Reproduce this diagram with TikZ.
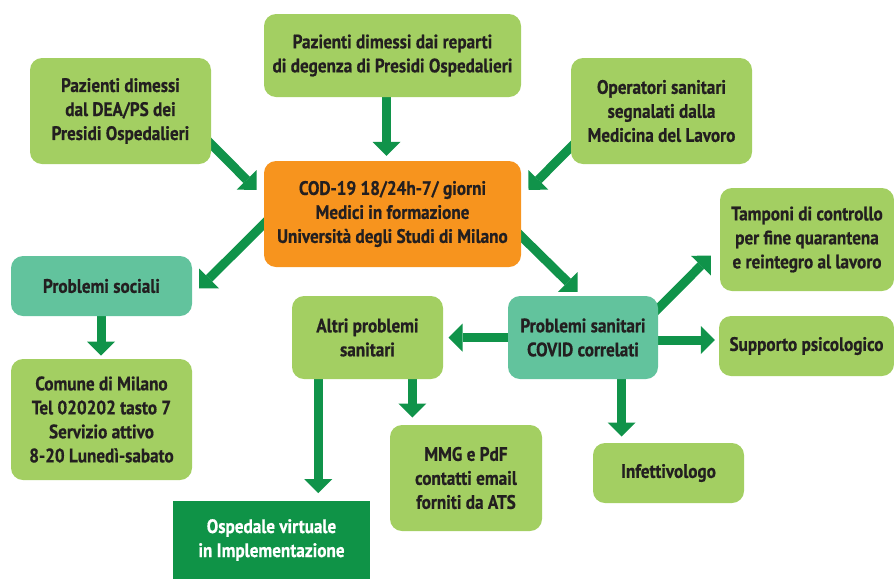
\documentclass[tikz,border=0pt]{standalone}
\usepackage{fontspec}
\setmainfont{PT Sans}[FakeStretch=0.88,BoldFeatures={FakeBold=0.6}]
\usetikzlibrary{arrows.meta,calc,backgrounds}
\definecolor{colorbox}  {RGB}{163,207,98 }
\definecolor{colorteal} {RGB}{98 ,195,157}
\definecolor{colorcod}  {RGB}{247,148,30 }
\definecolor{colorvirt} {RGB}{15 ,147,71 }
\definecolor{colorarrow}{RGB}{16 ,147,74 }
\definecolor{colortext} {RGB}{35 ,31 ,32 }

\begin{document}
\begin{tikzpicture}[
    x=1pt, y=-1pt,
    font={\fontsize{19.5}{24}\selectfont\bfseries},
    box/.style={fill=colorbox,rounded corners=12pt,text=colortext,align=center,inner sep=0pt},
    social/.style={box,fill=colorteal},
    hub/.style={box,fill=colorcod},
    virtual/.style={fill=colorvirt,text=white,align=center,inner sep=0pt},
    arr/.style={draw=colorarrow,line width=9pt,-{Triangle[width=28pt,length=14pt,line width=0pt]}},
]
    \useasboundingbox (0,0) rectangle (894,579);

    % sources
    \node[box,minimum width=181pt,minimum height=106pt] (dea) at (120.5,111)
        {Pazienti dimessi\\dal DEA/PS dei\\Presidi Ospedalieri};
    \node[box,minimum width=257pt,minimum height=83pt] (reparti) at (392.5,55.5)
        {Pazienti dimessi dai reparti\\di degenza di Presidi Ospedalieri};
    \node[box,minimum width=181pt,minimum height=106pt] (operatori) at (661.5,111)
        {Operatori sanitari\\segnalati dalla\\Medicina del Lavoro};

    % centre
    \node[hub,minimum width=257pt,minimum height=106pt] (cod) at (392.5,214)
        {COD-19 18/24h-7/ giorni\\Medici in formazione\\Università degli Studi di Milano};

    % social side
    \node[social,minimum width=181pt,minimum height=60pt] (sociali) at (101.5,286) {Problemi sociali};
    \node[box,minimum width=181pt,minimum height=121pt] (comune) at (101.5,419.5)
        {Comune di Milano\\Tel 020202 tasto 7\\Servizio attivo\\8-20 Lunedì-sabato};

    % health side
    \node[social,minimum width=150pt,minimum height=83pt] (covid) at (583,337.5)
        {Problemi sanitari\\COVID correlati};
    \node[box,minimum width=151pt,minimum height=83pt] (altri) at (367.5,337.5)
        {Altri problemi\\sanitari};
    \node[virtual,minimum width=197pt,minimum height=78pt] (ospedale) at (271.5,540)
        {Ospedale virtuale\\in Implementazione};
    \node[box,minimum width=152pt,minimum height=106pt] (mmg) at (466,478)
        {MMG e PdF\\contatti email\\forniti da ATS};
    \node[box,minimum width=174pt,minimum height=103pt] (tamponi) at (807,239.5)
        {Tamponi di controllo\\per fine quarantena\\e reintegro al lavoro};
    \node[box,minimum width=175pt,minimum height=60pt] (supporto) at (806.5,346) {Supporto psicologico};
    \node[box,minimum width=151pt,minimum height=60pt] (infetti) at (668.5,473) {Infettivologo};

    \begin{pgfonlayer}{background}
    \draw[arr] ($(dea.east)+(-10,23)$) -- ($(cod.north west)+(-7.3,29)$);
    \draw[arr] ($(reparti.south)+(-6,-7)$) -- ($(cod.north)+(-6,-5)$);
    \draw[arr] ($(operatori.west)+(10,26)$) -- ($(cod.north east)+(7.3,29)$);
    \draw[arr] ($(cod.west)+(10,0)$) -- ($(sociali.east)+(7,2.3)$);
    \draw[arr] ($(cod.east)+(-10,12.4)$) -- ($(covid.north)+(-5.3,-4)$);
    \draw[arr] ($(sociali.south)+(-0.5,-5)$) -- ($(comune.north)+(-0.5,-3.3)$);
    \draw[arr] ($(covid.east)+(-10,-18.8)$) -- ($(tamponi.west)+(-9,16.2)$);
    \draw[arr] ($(covid.east)+(-5,2.5)$) -- ($(supporto.west)+(-4,-6)$);
    \draw[arr] ($(covid.west)+(5,0)$) -- ($(altri.east)+(5.3,0)$);
    \draw[arr] ($(covid.south)+(38.7,-5)$) -- ($(infetti.north)+(-46.8,-6.3)$);
    \draw[arr] ($(altri.south)+(44.8,-5)$) -- ($(mmg.north)+(-53.7,-7.3)$);
    \draw[arr] ($(altri.south)+(-49.2,-5)$) -- ($(ospedale.north)+(46.8,-7.7)$);
    \end{pgfonlayer}
\end{tikzpicture}
\end{document}
